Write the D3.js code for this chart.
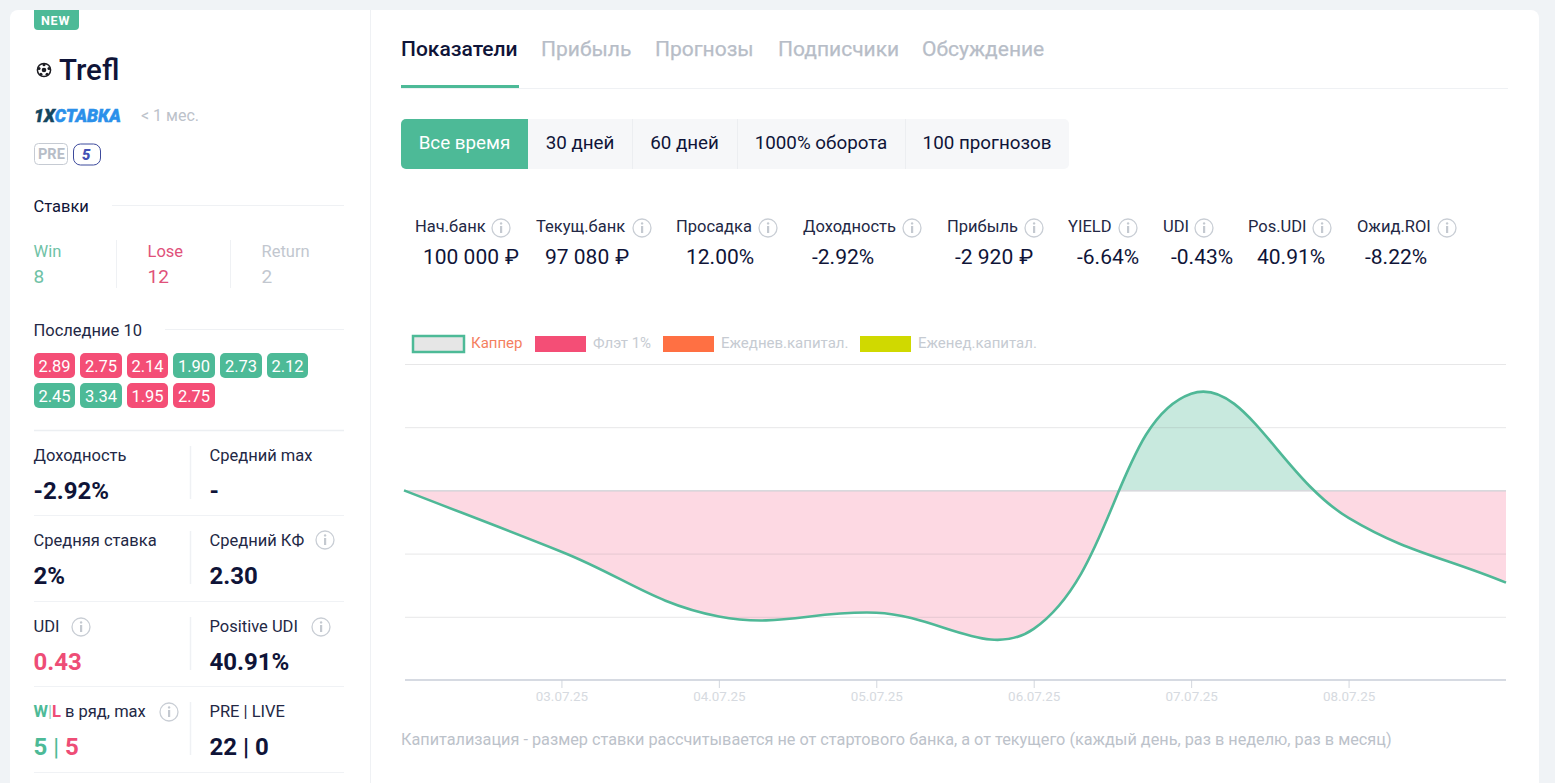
<!DOCTYPE html>
<html>
<head>
<meta charset="utf-8">
<script src="https://cdn.jsdelivr.net/npm/d3@7"></script>
<style>
  html, body { margin: 0; padding: 0; background: #f0f3f6; overflow: hidden; }
  svg { display: block; font-family: Roboto, sans-serif; }
  .domain { display: none; }
</style>
</head>
<body>
<svg id="page" width="1555" height="783"></svg>
<script>
// bank curve
var dates = ['02.07.25', '03.07.25', '04.07.25', '05.07.25', '06.07.25', '07.07.25', '08.07.25', '09.07.25'];
var bank = [100000, 98060, 96010, 96130, 95620, 103060, 99130, 97080];
var startBank = 100000;
var bankTicks = [94000, 96000, 98000, 100000, 102000, 104000];

// header
var tabNames = ['Показатели', 'Прибыль', 'Прогнозы', 'Подписчики', 'Обсуждение'];
var periodNames = ['Все время', '30 дней', '60 дней', '1000% оборота', '100 прогнозов'];
var summaryNames = ['Нач.банк', 'Текущ.банк', 'Просадка', 'Доходность', 'Прибыль', 'YIELD', 'UDI', 'Pos.UDI', 'Ожид.ROI'];
var summaryValues = ['100 000 ₽', '97 080 ₽', '12.00%', '-2.92%', '-2 920 ₽', '-6.64%', '-0.43%', '40.91%', '-8.22%'];
var legendNames = ['Каппер', 'Флэт 1%', 'Ежеднев.капитал.', 'Еженед.капитал.'];

// sidebar
var betNames = ['Win', 'Lose', 'Return'];
var betCounts = [8, 12, 2];
var lastOdds = [2.89, 2.75, 2.14, 1.90, 2.73, 2.12, 2.45, 3.34, 1.95, 2.75];
var lastWon = [0, 0, 0, 1, 1, 1, 1, 1, 0, 0];
var leftNames = ['Доходность', 'Средняя ставка', 'UDI'];
var leftValues = ['-2.92%', '2%', '0.43'];
var rightNames = ['Средний max', 'Средний КФ', 'Positive UDI', 'PRE | LIVE'];
var rightValues = ['-', '2.30', '40.91%', '22 | 0'];

var GREEN = '#4dba97', PINK = '#f44e76', NAVY = '#0f1438', GREY = '#b7bdc7';
var LEFT = 33.5;

var svg = d3.select('#page');

function text(x, y, str, size, fill, weight) {
    return svg.append('text')
        .attr('x', x).attr('y', y)
        .attr('font-size', size)
        .attr('font-weight', weight || 400)
        .attr('fill', fill)
        .text(str);
}

function rule(x1, y1, x2, y2, color, width) {
    svg.append('line')
        .attr('x1', x1).attr('y1', y1).attr('x2', x2).attr('y2', y2)
        .attr('stroke', color).attr('stroke-width', width || 1);
}

function info(x, y) {
    svg.append('circle').attr('cx', x).attr('cy', y).attr('r', 9)
        .attr('fill', 'none').attr('stroke', '#c9ced5').attr('stroke-width', 1.3);
    svg.append('rect').attr('x', x - 1).attr('y', y - 2).attr('width', 2.2).attr('height', 7).attr('fill', '#c4c9d0');
    svg.append('circle').attr('cx', x + 0.1).attr('cy', y - 4.6).attr('r', 1.2).attr('fill', '#c4c9d0');
}

// card
svg.append('rect').attr('x', 10).attr('y', 10).attr('width', 1529).attr('height', 800).attr('rx', 8).attr('fill', '#fff');
rule(370.5, 10, 370.5, 783, '#eff1f4');

// tabs
var tabX = [401, 541, 655, 778, 922];
tabNames.forEach(function(t, i) {
    text(tabX[i], 56, t, 21, i === 0 ? NAVY : GREY, i === 0 ? 500 : 400).attr('stroke', i === 0 ? 'none' : GREY).attr('stroke-width', 0.25);
});
rule(401, 88.5, 1508, 88.5, '#eff1f4');
svg.append('rect').attr('x', 401).attr('y', 85).attr('width', 118).attr('height', 3).attr('fill', GREEN);

// period buttons
var periodEdges = [401, 528, 632, 737, 905, 1069];
svg.append('rect').attr('x', 401).attr('y', 119).attr('width', 668).attr('height', 50).attr('rx', 5).attr('fill', '#f6f7f9');
svg.append('path').attr('d', 'M406,119H528V169H406A5,5 0 0 1 401,164V124A5,5 0 0 1 406,119Z').attr('fill', GREEN);
periodNames.forEach(function(t, i) {
    if (i > 1) rule(periodEdges[i] + 0.5, 119, periodEdges[i] + 0.5, 169, '#eceef1');
    text((periodEdges[i] + periodEdges[i + 1]) / 2, 149, t, 18.8, i === 0 ? '#fff' : NAVY).attr('text-anchor', 'middle');
});

// summary row
var summaryLabelX = [415, 536, 676, 803, 947, 1068, 1163, 1248, 1357];
var summaryValueX = [423, 545, 686, 812, 955, 1077, 1171, 1257, 1365];
var summaryInfoX = [501, 642, 768, 912, 1034, 1128, 1204, 1322, 1447];
summaryNames.forEach(function(t, i) {
    text(summaryLabelX[i], 232, t, 16.5, '#232845');
    info(summaryInfoX[i], 228);
    var parts = summaryValues[i].split(' ₽');
    var val = text(summaryValueX[i], 264, parts[0], 21, NAVY);
    if (parts.length > 1) val.append('tspan').attr('dx', 6).text('₽');
});

// legend
var legendBoxX = [413, 535, 663, 860];
var legendFill = ['#e6e6e6', PINK, '#ff7043', '#d0d900'];
legendNames.forEach(function(t, i) {
    svg.append('rect').attr('x', legendBoxX[i]).attr('y', 336).attr('width', 51).attr('height', 16)
        .attr('fill', legendFill[i])
        .attr('stroke', i ? 'none' : GREEN).attr('stroke-width', 2.5);
    text(legendBoxX[i] + 58, 348, t, 15, i ? '#c6cbd2' : '#f47f5f');
});

// chart
var x = d3.scalePoint().domain(dates).range([404, 1506]);
var y = d3.scaleLinear().domain([94000, 104000]).range([680, 364]);

// same spline chart libraries use: tangent split by distance to the neighbours
function splineCurve(context) {
    var pts, line = NaN;
    return {
        areaStart: function() { line = 0; },
        areaEnd: function() { context.closePath(); line = NaN; },
        lineStart: function() { pts = []; },
        point: function(px, py) { pts.push([+px, +py]); },
        lineEnd: function() {
            var t = 0.4, cps = pts.map(function(p, i) {
                var a = pts[Math.max(i - 1, 0)], b = pts[Math.min(i + 1, pts.length - 1)];
                var d1 = Math.hypot(p[0] - a[0], p[1] - a[1]), d2 = Math.hypot(b[0] - p[0], b[1] - p[1]);
                var sum = d1 + d2 || 1;
                return {
                    px: p[0] - t * d1 / sum * (b[0] - a[0]), py: p[1] - t * d1 / sum * (b[1] - a[1]),
                    nx: p[0] + t * d2 / sum * (b[0] - a[0]), ny: p[1] + t * d2 / sum * (b[1] - a[1])
                };
            });
            if (line === 1) context.lineTo(pts[0][0], pts[0][1]);
            else context.moveTo(pts[0][0], pts[0][1]);
            for (var i = 1; i < pts.length; i++) {
                context.bezierCurveTo(cps[i - 1].nx, cps[i - 1].ny, cps[i].px, cps[i].py, pts[i][0], pts[i][1]);
            }
            line = 1 - line;
        }
    };
}

var defs = svg.append('defs');
defs.append('clipPath').attr('id', 'above').append('rect')
    .attr('x', 405).attr('y', 350).attr('width', 1101).attr('height', y(startBank) - 350);
defs.append('clipPath').attr('id', 'below').append('rect')
    .attr('x', 405).attr('y', y(startBank)).attr('width', 1101).attr('height', 680 - y(startBank));

var area = d3.area()
    .x(function(d, i) { return x(dates[i]); })
    .y0(y(startBank))
    .y1(function(d) { return y(d); })
    .curve(splineCurve);

svg.append('path').datum(bank).attr('d', area).attr('fill', '#fdd9e3').attr('clip-path', 'url(#below)');
svg.append('path').datum(bank).attr('d', area).attr('fill', '#c8e9de').attr('clip-path', 'url(#above)');

var grid = svg.append('g').attr('transform', 'translate(405,0)')
    .call(d3.axisLeft(y).tickValues(bankTicks).tickSize(-1101).tickFormat(''));
grid.selectAll('line')
    .attr('stroke', function(d) { return d === startBank ? '#cfd1d6' : 'rgba(120,120,130,0.18)'; })
    .attr('stroke-width', function(d) { return d === startBank ? 1.3 : 1; });
grid.selectAll('line').filter(function(d) { return d === 94000; }).remove();

var axis = svg.append('g').attr('transform', 'translate(0,680)')
    .call(d3.axisBottom(x).tickValues(dates.slice(1, -1)).tickSize(8).tickPadding(3));
axis.selectAll('line').attr('stroke', '#d3d7de');
axis.selectAll('text').attr('fill', '#d6dae0').attr('font-size', 13.4).attr('font-family', 'Roboto, sans-serif');
rule(405, 680, 1506, 680, '#c9ced8', 1.5);

var line = d3.line()
    .x(function(d, i) { return x(dates[i]); })
    .y(function(d) { return y(d); })
    .curve(splineCurve);
svg.append('path').datum(bank).attr('d', line)
    .attr('fill', 'none').attr('stroke', '#4fb897').attr('stroke-width', 2.6);

text(401, 745, 'Капитализация - размер ставки рассчитывается не от стартового банка, а от текущего (каждый день, раз в неделю, раз в месяц)', 16.25, '#bcc2ca');

// sidebar header
svg.append('path').attr('d', 'M34,10H79V26A4,4 0 0 1 75,30H38A4,4 0 0 1 34,26Z').attr('fill', GREEN);
text(41, 25, 'NEW', 12.5, '#fff', 700).attr('letter-spacing', 0.8);

// football icon
svg.append('circle').attr('cx', 44).attr('cy', 70).attr('r', 6.6).attr('fill', '#fff').attr('stroke', '#1c1c22').attr('stroke-width', 1.5);
svg.append('circle').attr('cx', 44).attr('cy', 70).attr('r', 2.3).attr('fill', '#1c1c22');
d3.range(5).forEach(function(k) {
    var a = -Math.PI / 2 + k * 2 * Math.PI / 5;
    svg.append('circle').attr('cx', 44 + 5.2 * Math.cos(a)).attr('cy', 70 + 5.2 * Math.sin(a)).attr('r', 1.5).attr('fill', '#1c1c22');
});
text(59, 80, 'Trefl', 29.5, NAVY, 500);

var logo = text(34, 122, '', 17.6, '#14455f', 900).attr('font-style', 'italic').attr('stroke-width', 0.5);
logo.append('tspan').attr('stroke', '#14455f').text('1X');
logo.append('tspan').attr('fill', '#2b90ea').attr('stroke', '#2b90ea').text('СТАВКА');
text(141, 121, '< 1 мес.', 16, '#bcc2ca');

svg.append('rect').attr('x', 34.5).attr('y', 143.5).attr('width', 33).attr('height', 21).attr('rx', 4)
    .attr('fill', 'none').attr('stroke', '#c6cbd3');
text(38, 159, 'PRE', 14.5, '#b7bdc7', 700);
svg.append('rect').attr('x', 73.5).attr('y', 144).attr('width', 27).attr('height', 21).attr('rx', 7)
    .attr('fill', 'none').attr('stroke', '#3d4a9c');
text(82, 160, '5', 15, '#4350b5', 900).attr('font-style', 'italic');

// bets
text(LEFT, 212, 'Ставки', 16.5, NAVY);
rule(112, 205.5, 344, 205.5, '#eff1f4');
var betColor = ['#6fc2a6', '#e0517a', '#c2c7cf'];
var betX = [LEFT, 147.5, 261.5];
betNames.forEach(function(t, i) {
    text(betX[i], 257, t, 16.5, betColor[i]);
    text(betX[i], 283, betCounts[i], 19, betColor[i]);
    if (i) rule(betX[i] - 31, 240, betX[i] - 31, 288, '#eff1f4');
});

// last 10 chips
text(LEFT, 336, 'Последние 10', 16.5, '#232845');
rule(165, 329.5, 344, 329.5, '#eff1f4');
var chipX = [34, 80, 127, 173, 220, 267];
var chipW = [41, 42, 41, 42, 42, 41];
lastOdds.forEach(function(v, i) {
    var col = i % 6, row = Math.floor(i / 6);
    svg.append('rect')
        .attr('x', chipX[col]).attr('y', 353 + row * 30)
        .attr('width', chipW[col]).attr('height', 25).attr('rx', 5)
        .attr('fill', lastWon[i] ? GREEN : PINK);
    text(chipX[col] + chipW[col] / 2, 371.5 + row * 30, v.toFixed(2), 16.5, '#fff').attr('text-anchor', 'middle');
});

// stat grid
rule(34, 430.5, 344, 430.5, '#eceff2', 1.6);
var rowLabelY = [461, 546, 632, 717];
var rowValueY = [499, 584, 670, 755];
var rowRuleY = [515.5, 601.5, 686.5, 772.5];
rowLabelY.forEach(function(ly, i) {
    rule(190.5, ly - 15, 190.5, rowValueY[i], '#eff1f4', 1.5);
    rule(34, rowRuleY[i], 344, rowRuleY[i], '#f0f2f5');
    if (i < 3) {
        text(LEFT, ly, leftNames[i], 16.5, '#232845');
        text(LEFT, rowValueY[i], leftValues[i], 24, i === 2 ? '#ee4d76' : NAVY, 700);
    }
    text(209.5, ly, rightNames[i], 16.5, '#232845');
    text(209.5, rowValueY[i], rightValues[i], 24, NAVY, 700);
});

var streak = text(LEFT, 717, '', 16.5, '#232845');
streak.append('tspan').attr('fill', GREEN).attr('font-weight', 700).text('W');
streak.append('tspan').attr('fill', '#9ccfbe').text('|');
streak.append('tspan').attr('fill', '#ee4d76').attr('font-weight', 700).text('L');
streak.append('tspan').text(' в ряд, max');
var streakVal = text(LEFT, 755, '', 24, GREEN, 700);
streakVal.append('tspan').text('5 ');
streakVal.append('tspan').attr('font-weight', 400).text('| ');
streakVal.append('tspan').attr('fill', '#ee4d76').text('5');

info(325, 540);
info(81, 627);
info(321, 627);
info(169, 712);
</script>
</body>
</html>
